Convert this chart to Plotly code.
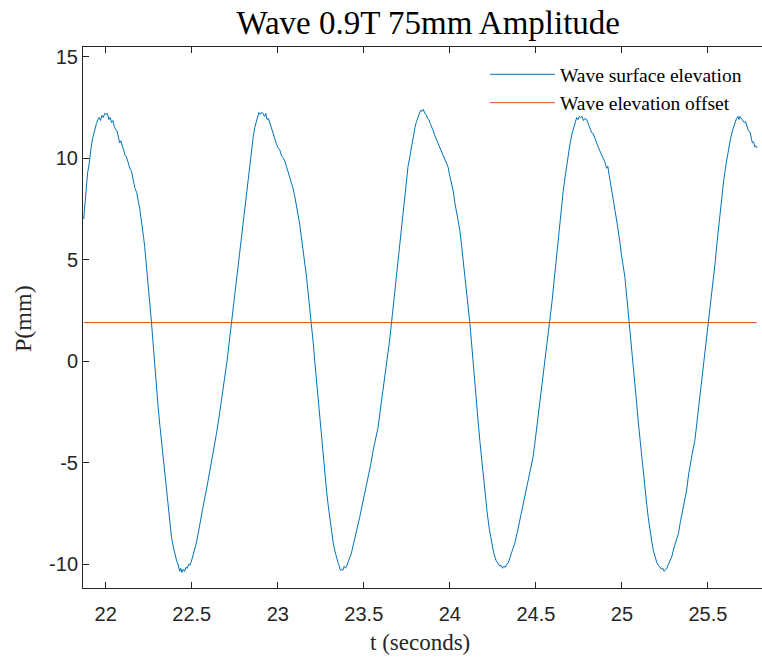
import plotly.graph_objects as go

# Time samples (s) and wave surface elevation (mm)
t_values = [
    21.872, 21.880, 21.886, 21.895, 21.902, 21.907, 21.915, 21.922, 21.930, 21.938,
    21.946, 21.955, 21.962, 21.970, 21.978, 21.986, 21.994, 22.002, 22.010, 22.018,
    22.026, 22.034, 22.042, 22.050, 22.058, 22.066, 22.074, 22.081, 22.088, 22.096,
    22.104, 22.112, 22.120, 22.130, 22.140, 22.150, 22.159, 22.170, 22.180, 22.190,
    22.198, 22.206, 22.214, 22.220, 22.227, 22.236, 22.246, 22.256, 22.266, 22.276,
    22.286, 22.295, 22.305, 22.314, 22.324, 22.334, 22.344, 22.353, 22.363, 22.372,
    22.382, 22.392, 22.402, 22.411, 22.420, 22.430, 22.436, 22.442, 22.450, 22.458,
    22.466, 22.474, 22.482, 22.490, 22.498, 22.506, 22.514, 22.520, 22.527, 22.537,
    22.547, 22.556, 22.566, 22.576, 22.586, 22.596, 22.605, 22.615, 22.625, 22.635,
    22.644, 22.656, 22.668, 22.680, 22.692, 22.705, 22.718, 22.731, 22.744, 22.757,
    22.769, 22.782, 22.795, 22.808, 22.822, 22.837, 22.850, 22.858, 22.866, 22.874,
    22.882, 22.890, 22.898, 22.906, 22.914, 22.922, 22.930, 22.938, 22.946, 22.953,
    22.962, 22.972, 22.982, 22.992, 23.002, 23.012, 23.022, 23.032, 23.041, 23.050,
    23.060, 23.070, 23.079, 23.089, 23.098, 23.108, 23.118, 23.128, 23.138, 23.148,
    23.158, 23.167, 23.176, 23.186, 23.196, 23.206, 23.216, 23.225, 23.235, 23.245,
    23.254, 23.264, 23.274, 23.283, 23.293, 23.303, 23.313, 23.322, 23.332, 23.342,
    23.351, 23.358, 23.364, 23.370, 23.378, 23.386, 23.394, 23.400, 23.410, 23.420,
    23.428, 23.440, 23.452, 23.464, 23.477, 23.489, 23.501, 23.513, 23.525, 23.540,
    23.554, 23.568, 23.583, 23.596, 23.609, 23.622, 23.635, 23.648, 23.661, 23.674,
    23.687, 23.700, 23.713, 23.726, 23.738, 23.748, 23.757, 23.767, 23.777, 23.787,
    23.797, 23.806, 23.814, 23.822, 23.830, 23.838, 23.846, 23.854, 23.862, 23.870,
    23.878, 23.886, 23.894, 23.903, 23.913, 23.923, 23.933, 23.942, 23.952, 23.962,
    23.971, 23.980, 23.990, 24.000, 24.010, 24.019, 24.029, 24.039, 24.048, 24.058,
    24.068, 24.077, 24.087, 24.097, 24.106, 24.116, 24.126, 24.135, 24.145, 24.155,
    24.164, 24.174, 24.184, 24.193, 24.203, 24.216, 24.229, 24.242, 24.255, 24.268,
    24.281, 24.290, 24.298, 24.306, 24.314, 24.322, 24.330, 24.339, 24.352, 24.365,
    24.378, 24.390, 24.402, 24.414, 24.426, 24.440, 24.455, 24.470, 24.484, 24.496,
    24.509, 24.521, 24.533, 24.545, 24.557, 24.569, 24.581, 24.594, 24.607, 24.620,
    24.633, 24.646, 24.659, 24.672, 24.685, 24.698, 24.710, 24.720, 24.728, 24.737,
    24.745, 24.752, 24.760, 24.768, 24.776, 24.784, 24.795, 24.805, 24.814, 24.824,
    24.833, 24.843, 24.853, 24.862, 24.872, 24.882, 24.892, 24.901, 24.911, 24.918,
    24.925, 24.932, 24.940, 24.950, 24.960, 24.969, 24.979, 24.989, 24.998, 25.008,
    25.017, 25.030, 25.043, 25.054, 25.065, 25.076, 25.086, 25.095, 25.105, 25.115,
    25.125, 25.134, 25.144, 25.153, 25.163, 25.173, 25.182, 25.192, 25.202, 25.212,
    25.221, 25.230, 25.238, 25.246, 25.254, 25.262, 25.270, 25.280, 25.289, 25.302,
    25.315, 25.328, 25.340, 25.352, 25.364, 25.376, 25.388, 25.400, 25.412, 25.424,
    25.437, 25.450, 25.463, 25.476, 25.489, 25.502, 25.515, 25.528, 25.541, 25.554,
    25.567, 25.579, 25.592, 25.605, 25.618, 25.631, 25.644, 25.657, 25.666, 25.674,
    25.680, 25.686, 25.694, 25.702, 25.710, 25.718, 25.726, 25.735, 25.744, 25.752,
    25.758, 25.765, 25.772, 25.778, 25.784,
]

p_values = [
    7.0, 7.9, 8.4, 9.3, 9.6, 10.06, 10.5, 10.9, 11.2, 11.5,
    11.7, 11.9, 12.0, 11.85, 12.1, 12.0, 12.2, 12.15, 12.2, 11.9,
    12.0, 11.75, 11.85, 11.55, 11.4, 11.35, 11.0, 10.75, 10.85, 10.55,
    10.4, 10.15, 10.06, 9.8, 9.5, 9.35, 9.0, 8.5, 8.3, 7.9,
    7.5, 7.0, 6.6, 6.1, 5.6, 4.8, 3.8, 2.9, 1.9, 0.8,
    -0.4, -1.4, -2.3, -3.1, -3.9, -4.8, -5.6, -6.35, -7.2, -7.9,
    -8.65, -9.1, -9.5, -9.8, -10.0, -10.35, -10.2, -10.4, -10.25, -10.35,
    -10.15, -10.2, -10.0, -10.05, -9.85, -9.6, -9.4, -9.1, -8.95, -8.5,
    -8.0, -7.6, -7.15, -6.7, -6.3, -5.85, -5.5, -5.05, -4.5, -4.0,
    -3.55, -2.9, -2.2, -1.6, -0.95, 0.0, 0.95, 1.9, 2.9, 3.9,
    4.8, 5.8, 6.7, 7.5, 8.6, 9.8, 10.6, 11.1, 11.5, 11.8,
    12.0, 12.25, 12.15, 12.25, 12.2, 12.05, 12.2, 11.9, 11.95, 11.75,
    11.5, 11.2, 10.95, 10.7, 10.5, 10.4, 10.1, 10.0, 9.85, 9.6,
    9.35, 9.1, 8.9, 8.5, 8.15, 7.75, 7.2, 6.7, 6.1, 5.5,
    4.8, 4.15, 3.4, 2.6, 1.9, 0.9, -0.1, -0.95, -1.95, -2.95,
    -3.9, -4.75, -5.55, -6.35, -7.1, -7.8, -8.4, -8.95, -9.35, -9.75,
    -9.95, -10.1, -10.3, -10.25, -10.3, -10.1, -10.2, -10.1, -9.9, -9.7,
    -9.45, -9.0, -8.6, -8.1, -7.65, -7.15, -6.7, -6.2, -5.7, -5.1,
    -4.4, -3.8, -3.25, -2.4, -1.6, -0.95, 0.0, 0.9, 1.9, 2.95,
    4.1, 5.1, 6.2, 7.3, 8.25, 9.0, 9.6, 10.05, 10.6, 11.1,
    11.5, 11.8, 12.0, 12.2, 12.35, 12.3, 12.4, 12.2, 12.15, 11.95,
    11.9, 11.7, 11.55, 11.35, 11.1, 10.9, 10.75, 10.55, 10.4, 10.15,
    9.95, 9.75, 9.55, 9.1, 8.8, 8.4, 7.8, 7.3, 6.9, 6.45,
    5.7, 5.0, 4.3, 3.5, 2.7, 1.9, 0.9, -0.1, -1.1, -2.0,
    -2.95, -3.9, -4.8, -5.7, -6.5, -7.4, -8.25, -8.95, -9.45, -9.8,
    -9.95, -10.1, -10.05, -10.2, -10.1, -10.15, -10.0, -9.95, -9.6, -9.3,
    -8.95, -8.5, -8.0, -7.6, -7.15, -6.55, -5.9, -5.3, -4.7, -3.9,
    -3.0, -2.2, -1.4, -0.5, 0.4, 1.2, 1.9, 2.95, 4.05, 5.15,
    6.3, 7.4, 8.4, 9.2, 10.0, 10.7, 11.2, 11.5, 11.8, 12.0,
    11.9, 12.05, 12.0, 12.05, 11.85, 11.95, 11.9, 11.65, 11.45, 11.25,
    11.2, 10.95, 10.75, 10.55, 10.35, 10.15, 9.95, 9.8, 9.5, 9.6,
    9.2, 8.8, 8.4, 7.9, 7.4, 6.95, 6.45, 5.8, 5.2, 4.7,
    4.15, 3.0, 1.9, 0.8, -0.1, -1.1, -2.1, -3.0, -3.9, -4.8,
    -5.6, -6.35, -7.05, -7.7, -8.35, -8.85, -9.3, -9.65, -9.9, -10.05,
    -10.15, -10.25, -10.2, -10.35, -10.25, -10.2, -10.0, -9.85, -9.65, -9.2,
    -8.85, -8.5, -7.9, -7.4, -6.9, -6.35, -5.55, -4.9, -4.4, -3.9,
    -2.95, -2.0, -1.1, -0.1, 0.9, 1.9, 2.9, 3.85, 4.8, 5.95,
    7.0, 8.1, 8.95, 9.7, 10.4, 10.95, 11.4, 11.8, 11.95, 12.05,
    11.9, 12.05, 11.95, 11.85, 11.75, 11.8, 11.55, 11.35, 11.3, 11.0,
    10.75, 10.8, 10.55, 10.6, 10.5,
]

offset_value = 1.9
offset_t = [t_values[0], t_values[-1]]
offset_p = [offset_value, offset_value]

x_ticks = [22, 22.5, 23, 23.5, 24, 24.5, 25, 25.5]
y_ticks = [-10, -5, 0, 5, 10, 15]

SERIF = "Liberation Serif, Times New Roman, serif"
SANS = "Liberation Sans, Arial, sans-serif"
AXIS_COLOR = "#262626"

fig = go.Figure()
fig.add_trace(go.Scatter(
    x=t_values, y=p_values, mode="lines", name="Wave surface elevation",
    line=dict(color="#0072BD", width=1),
))
fig.add_trace(go.Scatter(
    x=offset_t, y=offset_p, mode="lines", name="Wave elevation offset",
    line=dict(color="#D95319", width=1),
))

fig.update_layout(
    width=762, height=657,
    margin=dict(l=83, r=0, t=47, b=69, autoexpand=False),
    paper_bgcolor="white", plot_bgcolor="white",
    title=dict(text="Wave 0.9T 75mm Amplitude", x=0.562, xanchor="center",
               y=0.966, yanchor="middle",
               font=dict(family=SERIF, size=33, color="black")),
    showlegend=True,
    legend=dict(x=0.592, y=0.985, xanchor="left", yanchor="top",
                bgcolor="rgba(0,0,0,0)", borderwidth=0,
                font=dict(family=SERIF, size=19.5, color="black"),
                itemwidth=65, tracegroupgap=0),
    xaxis=dict(range=[21.868, 25.814], tickvals=x_ticks,
               ticktext=[f"{v:g}" for v in x_ticks],
               showgrid=False, zeroline=False,
               showline=True, linecolor=AXIS_COLOR, linewidth=1,
               mirror="ticks", ticks="inside", ticklen=6, tickcolor=AXIS_COLOR,
               ticklabelstandoff=8,
               tickfont=dict(family=SANS, size=20, color=AXIS_COLOR)),
    yaxis=dict(range=[-11.17, 15.47], tickvals=y_ticks,
               ticktext=[f"{v:g}" for v in y_ticks],
               showgrid=False, zeroline=False,
               showline=True, linecolor=AXIS_COLOR, linewidth=1,
               mirror=False, ticks="inside", ticklen=6, tickcolor=AXIS_COLOR,
               tickfont=dict(family=SANS, size=20, color=AXIS_COLOR)),
    annotations=[
        dict(text="t (seconds)", xref="paper", yref="paper", x=0.496, y=-0.1,
             xanchor="center", yanchor="middle", showarrow=False,
             font=dict(family=SERIF, size=23, color=AXIS_COLOR)),
        dict(text="P(mm)", xref="paper", yref="paper", x=-0.0884, y=0.499,
             xanchor="center", yanchor="middle", showarrow=False, textangle=-90,
             font=dict(family=SERIF, size=24, color=AXIS_COLOR)),
    ],
)

fig.write_html("out.html", config={"displayModeBar": False},
               post_script="document.body.style.margin='0';")
